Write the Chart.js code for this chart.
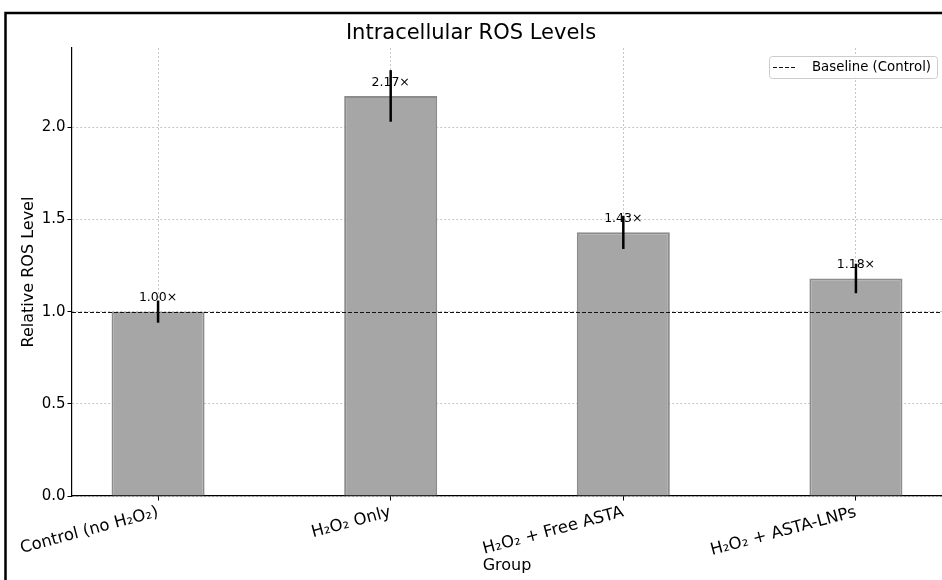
<!DOCTYPE html>
<html>
<head>
<meta charset="utf-8">
<script src="https://cdn.jsdelivr.net/npm/chart.js@4.4.0/dist/chart.umd.min.js"></script>
<style>
  html, body { margin: 0; padding: 0; background: #fff; }
  #wrap { width: 942px; height: 580px; }
</style>
</head>
<body>
<div id="wrap"><canvas id="rosChart"></canvas></div>
<script>
const groups = ['Control (no H₂O₂)', 'H₂O₂ Only', 'H₂O₂ + Free ASTA', 'H₂O₂ + ASTA-LNPs'];
const rosLevels = [1.00, 2.17, 1.43, 1.18];
const rosErrors = [0.06, 0.14, 0.09, 0.08];
const yTicks = [0, 0.5, 1.0, 1.5, 2.0];
const baselineValue = 1.0;
const baselineLabel = 'Baseline (Control)';

const FONT = "'DejaVu Sans', sans-serif";

// error bars, value labels, baseline, legend box and the outer frame
const extras = {
    id: 'extras',
    beforeDraw(chart) {
        const c = chart.ctx;
        c.save();
        c.fillStyle = '#fff';
        c.fillRect(0, 0, chart.width, chart.height);
        c.restore();
    },
    afterDatasetsDraw(chart) {
        const c = chart.ctx;
        const y = chart.scales.y;
        const area = chart.chartArea;
        const bars = chart.getDatasetMeta(0).data;
        c.save();
        c.font = '12.5px ' + FONT;
        c.fillStyle = '#000';
        c.textAlign = 'center';
        c.textBaseline = 'bottom';
        bars.forEach((bar, i) => {
            c.fillText(rosLevels[i].toFixed(2) + '×', bar.x, y.getPixelForValue(rosLevels[i] + 0.05) + 2);
        });
        c.strokeStyle = '#000';
        c.lineWidth = 2.5;
        bars.forEach((bar, i) => {
            c.beginPath();
            c.moveTo(bar.x, y.getPixelForValue(rosLevels[i] - rosErrors[i]));
            c.lineTo(bar.x, y.getPixelForValue(rosLevels[i] + rosErrors[i]));
            c.stroke();
        });
        // baseline
        const by = Math.round(y.getPixelForValue(baselineValue)) + 0.5;
        c.lineWidth = 1.2;
        c.strokeStyle = '#111';
        c.setLineDash([4, 2]);
        c.beginPath();
        c.moveTo(area.left, by);
        c.lineTo(area.right, by);
        c.stroke();
        c.restore();
    },
    afterDraw(chart) {
        const c = chart.ctx;
        const area = chart.chartArea;
        c.save();
        // legend
        const bx = area.right - 173, bt = area.top + 8, bw = 168, bh = 22;
        c.fillStyle = 'rgba(255,255,255,0.85)';
        c.strokeStyle = '#cccccc';
        c.lineWidth = 1;
        c.beginPath();
        c.roundRect(bx + 0.5, bt + 0.5, bw, bh, 3);
        c.fill();
        c.stroke();
        c.strokeStyle = '#111';
        c.lineWidth = 1.2;
        c.setLineDash([4, 2]);
        c.beginPath();
        c.moveTo(bx + 4, bt + 11.5);
        c.lineTo(bx + 26, bt + 11.5);
        c.stroke();
        c.setLineDash([]);
        c.fillStyle = '#000';
        c.font = '13.3px ' + FONT;
        c.textBaseline = 'middle';
        c.textAlign = 'left';
        c.fillText(baselineLabel, bx + 43, bt + 12);
        // outer frame of the figure
        c.strokeStyle = '#000';
        c.lineWidth = 2.5;
        c.beginPath();
        c.moveTo(5.5, chart.height);
        c.lineTo(5.5, 13);
        c.lineTo(chart.width, 13);
        c.stroke();
        c.restore();
    }
};

new Chart(document.getElementById('rosChart'), {
    type: 'bar',
    data: {
        datasets: [{
            label: 'Relative ROS Level',
            data: rosLevels.map((v, i) => ({ x: i, y: v })),
            backgroundColor: '#a6a6a6',
            borderColor: '#8c8c8c',
            borderWidth: 2,
            categoryPercentage: 1,
            barPercentage: 0.4
        }]
    },
    options: {
        responsive: true,
        maintainAspectRatio: false,
        animation: false,
        devicePixelRatio: 1,
        layout: { padding: { top: 0, right: 0, left: 0, bottom: 0 } },
        plugins: {
            legend: { display: false },
            tooltip: { enabled: false },
            title: {
                display: true,
                text: 'Intracellular ROS Levels',
                color: '#000',
                font: { family: FONT, size: 21, weight: 'normal' },
                padding: { top: 20.5, bottom: 2.3 }
            }
        },
        scales: {
            x: {
                type: 'linear',
                offset: false,
                min: -0.37,
                max: 3.37,
                afterBuildTicks: s => { s.ticks = groups.map((_, i) => ({ value: i })); },
                afterFit: s => { s.height = 84; },
                ticks: {
                    autoSkip: false,
                    minRotation: 15,
                    maxRotation: 15,
                    color: '#000',
                    padding: 2,
                    font: { family: FONT, size: 16.5 },
                    callback: v => groups[v]
                },
                grid: {
                    offset: false,
                    color: '#b8b8b8',
                    lineWidth: 0.8,
                    tickLength: 4.5,
                    tickColor: '#000',
                    tickWidth: 1
                },
                border: { display: true, color: '#000', width: 1.2, dash: [2, 2] },
                title: {
                    display: true,
                    text: 'Group',
                    color: '#000',
                    font: { family: FONT, size: 16 },
                    padding: { top: 0, bottom: 5 }
                }
            },
            y: {
                min: 0,
                max: 2.43,
                afterBuildTicks: s => { s.ticks = yTicks.map(v => ({ value: v })); },
                afterFit: s => { s.width = 72; },
                ticks: {
                    color: '#000',
                    padding: 2,
                    font: { family: FONT, size: 15 },
                    callback: v => v.toFixed(1)
                },
                grid: {
                    color: '#b8b8b8',
                    lineWidth: 0.8,
                    tickLength: 4.5,
                    tickColor: '#000',
                    tickWidth: 1
                },
                border: { display: true, color: '#000', width: 1.2, dash: [2, 2] },
                title: {
                    display: true,
                    text: 'Relative ROS Level',
                    color: '#000',
                    font: { family: FONT, size: 16 },
                    padding: { top: 19, bottom: 0 }
                }
            }
        }
    },
    plugins: [extras]
});
</script>
</body>
</html>
